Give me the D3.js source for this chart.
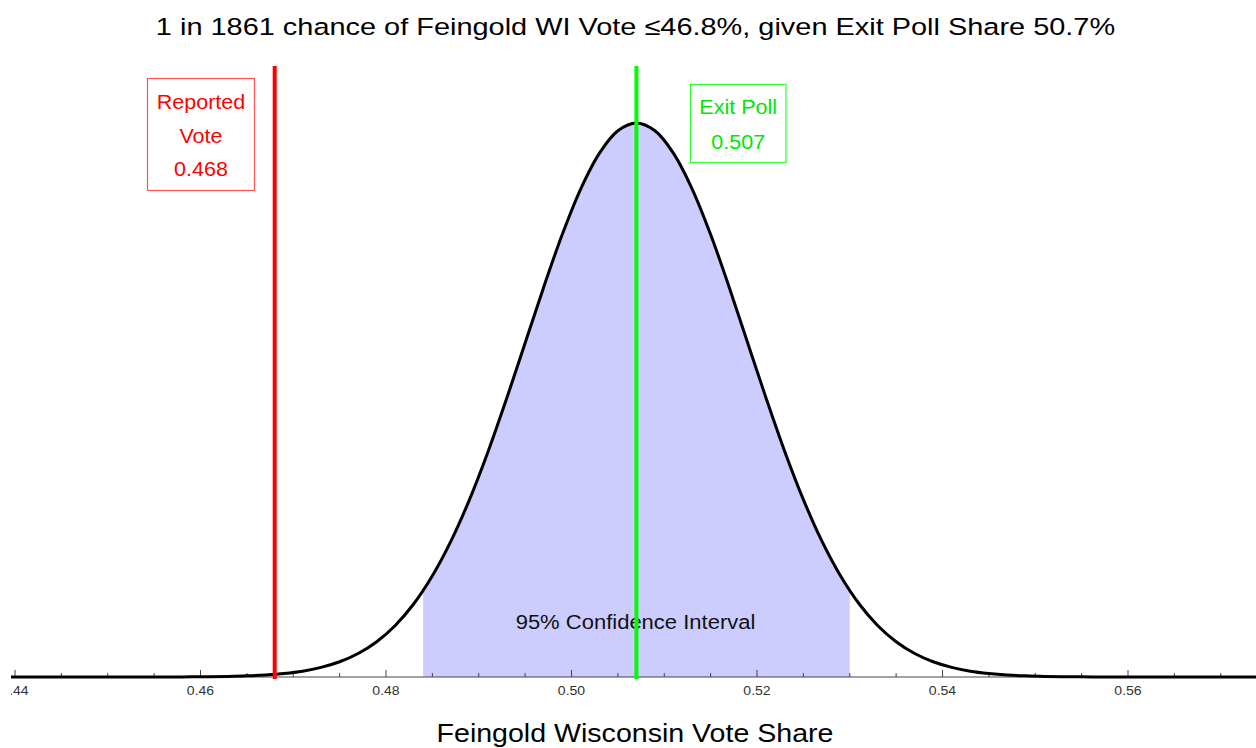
<!DOCTYPE html>
<html>
<head>
<meta charset="utf-8">
<script src="https://cdn.jsdelivr.net/npm/d3@7"></script>
<style>
  html, body { margin: 0; padding: 0; background: #fff; }
  svg { display: block; font-family: "Liberation Sans", Arial, sans-serif; }
</style>
</head>
<body>
<div id="chart"></div>
<script>
// Vote share sample points (x) and curve height (density)
const shares = [0.439, 0.441, 0.443, 0.445, 0.447, 0.449, 0.451, 0.453, 0.455, 0.457,
  0.459, 0.461, 0.463, 0.465, 0.467, 0.469, 0.471, 0.473, 0.475, 0.477,
  0.479, 0.481, 0.483, 0.485, 0.487, 0.489, 0.491, 0.493, 0.495, 0.497,
  0.499, 0.501, 0.503, 0.505, 0.507, 0.509, 0.511, 0.513, 0.515, 0.517,
  0.519, 0.521, 0.523, 0.525, 0.527, 0.529, 0.531, 0.533, 0.535, 0.537,
  0.539, 0.541, 0.543, 0.545, 0.547, 0.549, 0.551, 0.553, 0.555, 0.557,
  0.559, 0.561, 0.563, 0.565, 0.567, 0.569, 0.571, 0.573, 0.575];
const density = [0, 0, 0, 0, 0, 0, 0, 0, 0, 0.005,
  0.01, 0.02, 0.037, 0.068, 0.12, 0.21, 0.35, 0.58, 0.92, 1.42,
  2.13, 3.11, 4.42, 6.11, 8.2, 10.71, 13.6, 16.8, 20.16, 23.53,
  26.71, 29.47, 31.61, 32.97, 33.44, 32.97, 31.61, 29.47, 26.71, 23.53,
  20.16, 16.8, 13.6, 10.71, 8.2, 6.11, 4.42, 3.11, 2.13, 1.42,
  0.92, 0.58, 0.35, 0.21, 0.12, 0.068, 0.037, 0.02, 0.01, 0.005,
  0, 0, 0, 0, 0, 0, 0, 0, 0];

const reported = 0.468;
const exitPoll = 0.507;
const ciRange = [0.484, 0.530];
const majorTicks = [0.44, 0.46, 0.48, 0.50, 0.52, 0.54, 0.56];
const minorTicks = [0.445, 0.45, 0.455, 0.465, 0.47, 0.475, 0.485, 0.49, 0.495,
  0.505, 0.51, 0.515, 0.525, 0.53, 0.535, 0.545, 0.55, 0.555, 0.565, 0.57];

const titleText = '1 in 1861 chance of Feingold WI Vote \u226446.8%, given Exit Poll Share 50.7%';
const axisTitle = 'Feingold Wisconsin Vote Share';
const ciLabel = '95% Confidence Interval';
const reportedLabel = ['Reported', 'Vote', '0.468'];
const exitLabel = ['Exit Poll', '0.507'];

const W = 1256, H = 748;
const left = 11, right = 1256, axisY = 677, peakY = 123;
// the original font renders about 10% wider than Liberation Sans
const stretch = 1.1;

const svg = d3.select('#chart').append('svg')
  .attr('width', W).attr('height', H);

// widen a text element horizontally so its glyph widths match the reference
function widen(sel, k) {
  sel.each(function () {
    const w = this.getComputedTextLength();
    d3.select(this).attr('textLength', w * k).attr('lengthAdjust', 'spacingAndGlyphs');
  });
  return sel;
}

const x = d3.scaleLinear()
  .domain([0.44, 0.56])
  .range([15, 1128]);
const y = d3.scaleLinear()
  .domain([0, d3.max(density)])
  .range([axisY, peakY]);

const pts = shares.map((s, i) => [s, density[i]]);

const defs = svg.append('defs');
defs.append('clipPath').attr('id', 'plot-clip')
  .append('rect').attr('x', left).attr('y', 0)
  .attr('width', right - left).attr('height', H);
defs.append('clipPath').attr('id', 'ci-clip')
  .append('rect')
  .attr('x', x(ciRange[0])).attr('y', 0)
  .attr('width', x(ciRange[1]) - x(ciRange[0])).attr('height', H);

const plot = svg.append('g').attr('clip-path', 'url(#plot-clip)');

// Confidence interval fill
plot.append('path')
  .datum(pts)
  .attr('clip-path', 'url(#ci-clip)')
  .attr('fill', '#ccccff')
  .attr('d', d3.area()
    .x(d => x(d[0])).y0(axisY).y1(d => y(d[1]))
    .curve(d3.curveCatmullRom));

widen(plot.append('text')
  .attr('x', 635.5).attr('y', 622)
  .attr('text-anchor', 'middle').attr('dominant-baseline', 'central')
  .attr('font-size', 20).attr('fill', '#111')
  .text(ciLabel), stretch);

// Axis line + ticks
plot.append('line')
  .attr('x1', left).attr('x2', right)
  .attr('y1', axisY).attr('y2', axisY)
  .attr('stroke', '#444').attr('stroke-width', 1);

plot.selectAll('.major').data(majorTicks).join('line')
  .attr('x1', d => x(d)).attr('x2', d => x(d))
  .attr('y1', axisY).attr('y2', axisY - 7)
  .attr('stroke', '#444').attr('stroke-width', 1);
plot.selectAll('.minor').data(minorTicks).join('line')
  .attr('x1', d => x(d)).attr('x2', d => x(d))
  .attr('y1', axisY).attr('y2', axisY - 4)
  .attr('stroke', '#444').attr('stroke-width', 1);

widen(plot.selectAll('.tlabel').data(majorTicks).join('text')
  .attr('x', d => x(d)).attr('y', 691)
  .attr('text-anchor', 'middle').attr('dominant-baseline', 'central')
  .attr('font-size', 12).attr('fill', '#333')
  .text(d => d3.format('.2f')(d)), 1.17);

// Density curve
plot.append('path')
  .datum(pts)
  .attr('fill', 'none')
  .attr('stroke', '#000')
  .attr('stroke-width', 3)
  .attr('d', d3.line()
    .x(d => x(d[0])).y(d => y(d[1]))
    .curve(d3.curveCatmullRom));

// Reference lines
plot.append('line')
  .attr('x1', x(reported)).attr('x2', x(reported))
  .attr('y1', 66).attr('y2', 679)
  .attr('stroke', '#ff0000').attr('stroke-width', 4);
plot.append('line')
  .attr('x1', x(exitPoll)).attr('x2', x(exitPoll))
  .attr('y1', 66).attr('y2', 679)
  .attr('stroke', '#00ff00').attr('stroke-width', 4);

// Label boxes
function labelBox(x0, y0, w, h, lines, lineYs, color, stroke) {
  svg.append('rect')
    .attr('x', x0).attr('y', y0).attr('width', w).attr('height', h)
    .attr('fill', '#fff').attr('stroke', stroke).attr('stroke-width', 1.2);
  lines.forEach((t, i) => {
    widen(svg.append('text')
      .attr('x', x0 + w / 2).attr('y', lineYs[i])
      .attr('text-anchor', 'middle').attr('dominant-baseline', 'central')
      .attr('font-size', 20.5).attr('fill', color)
      .text(t), 1.05);
  });
}
labelBox(147.5, 78.5, 107, 112, reportedLabel, [101, 135, 168], '#ff0000', '#ff5555');
labelBox(690.5, 84.5, 95.5, 78, exitLabel, [106, 141], '#00e600', '#33ff33');

// Titles
widen(svg.append('text')
  .attr('x', 635.5).attr('y', 26)
  .attr('text-anchor', 'middle').attr('dominant-baseline', 'central')
  .attr('font-size', 24.5).attr('fill', '#000')
  .text(titleText), 1.18);

widen(svg.append('text')
  .attr('x', 635).attr('y', 733)
  .attr('text-anchor', 'middle').attr('dominant-baseline', 'central')
  .attr('font-size', 25.5).attr('fill', '#000')
  .text(axisTitle), 1.12);
</script>
</body>
</html>
